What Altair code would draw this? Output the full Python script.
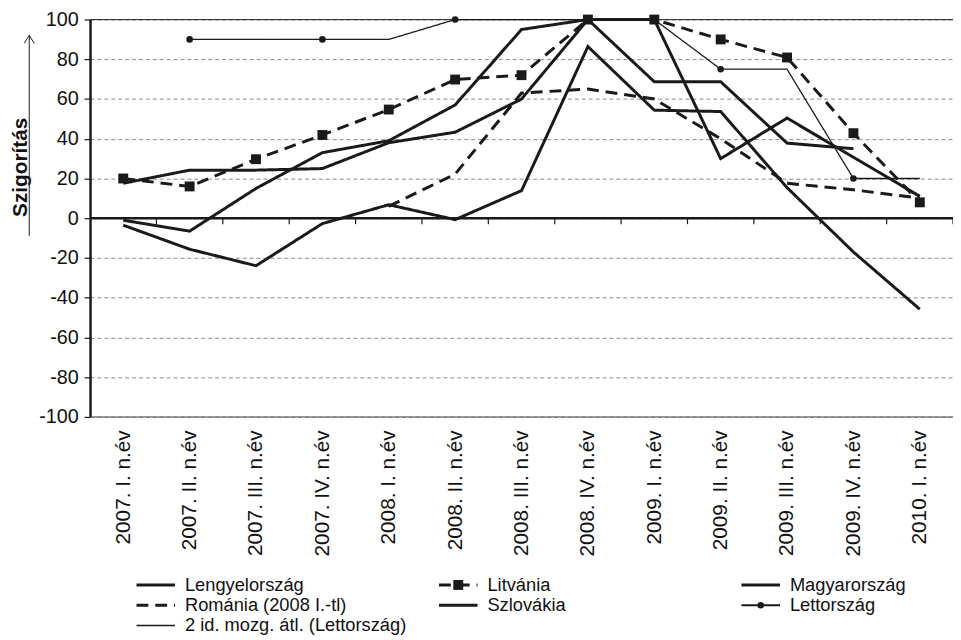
import altair as alt
import pandas as pd

quarters = ["2007. I. n.év", "2007. II. n.év", "2007. III. n.év", "2007. IV. n.év",
            "2008. I. n.év", "2008. II. n.év", "2008. III. n.év", "2008. IV. n.év",
            "2009. I. n.év", "2009. II. n.év", "2009. III. n.év", "2009. IV. n.év",
            "2010. I. n.év"]

lengyel = [17.6, 24.2, 24.2, 25, 38, 43.3, 60, 100, 68.7, 68.7, 37.8, 35, None]
litvania = [20, 16, 29.7, 41.9, 54.7, 69.8, 72, 100, 100, 90, 80.9, 42.8, 8]
magyar = [-1, -6.5, 15, 33, 39, 57, 95, 100, 100, 30, 50.4, 30.7, 11]
romania = [None, None, None, None, 6, 22.2, 63, 65, 60, 40, 17.6, 14.3, 10.1]
szlovakia = [-3.5, -15.6, -23.9, -2.7, 6.8, -0.7, 13.9, 86.4, 54.4, 53.7, 15.4, -17, -45.8]
lettorszag = [None, 90, None, 90, None, 100, None, 100, None, 75, None, 20, None]
mozg_atl = [None, 90, 90, 90, 90, 100, 100, 100, 100, 75, 75, 20, 20]

names = ["Lengyelország", "Litvánia", "Magyarország",
         "Románia (2008 I.-tl)", "Szlovákia", "Lettország",
         "2 id. mozg. átl. (Lettország)"]
series_values = [lengyel, litvania, magyar, romania, szlovakia, lettorszag, mozg_atl]

# legend grid placement (column, row) per series
legend_col = [0, 1, 2, 0, 1, 2, 0]
legend_row = [0, 0, 0, 1, 1, 1, 2]

rows = []
for name, vals in zip(names, series_values):
    for q, v in zip(quarters, vals):
        if v is not None:
            rows.append({"negyedév": q, "sorozat": name, "érték": v})
df = pd.DataFrame(rows)

leg_df = pd.DataFrame({"sorozat": names, "col": legend_col, "row": legend_row})

# ---- styles ----
INK = "#1a1a1a"
FONT = "Liberation Sans"
W, H = 873, 402
step = W / len(quarters)

dash_range = [[1, 0], [12, 7], [1, 0], [12, 7], [1, 0], [1, 0], [1, 0]]
width_range = [3, 3, 3, 3, 3, 2, 1.3]

dash_enc = alt.StrokeDash("sorozat:N", scale=alt.Scale(type="ordinal", domain=names, range=dash_range), legend=None)
width_enc = alt.StrokeWidth("sorozat:N", scale=alt.Scale(type="ordinal", domain=names, range=width_range), legend=None)

xscale = alt.Scale(type="point", domain=quarters, padding=0.5)
yscale = alt.Scale(domain=[-100, 100], nice=False)

x_enc = alt.X("negyedév:N", scale=xscale, sort=quarters,
              axis=alt.Axis(title=None, labelAngle=-90, labelFontSize=21, labelFont=FONT,
                            labelColor="#111", labelPadding=13, domain=False, ticks=False,
                            grid=False, labelLimit=300))
y_enc = alt.Y("érték:Q", scale=yscale,
              axis=alt.Axis(values=list(range(-100, 101, 20)), title="Szigorítás",
                            labelExpr="'' + datum.value",
                            grid=True, gridDash=[4, 3], gridColor="#8a8a8a", gridWidth=1,
                            domainColor=INK, domainWidth=2.5, tickColor=INK, tickSize=6,
                            tickWidth=1.2, labelFontSize=20, labelFont=FONT, labelColor="#111",
                            labelPadding=6, titleFontSize=21, titleFont=FONT,
                            titleFontWeight="bold", titleColor="#111", titleAngle=-90,
                            titleX=-70, titleY=149, titleAlign="center",
                            titleBaseline="middle"))

line_names = [n for n in names if n != "Lettország"]

lines = alt.Chart(df).transform_filter(
    alt.FieldOneOfPredicate(field="sorozat", oneOf=line_names)
).mark_line(color=INK, strokeJoin="miter").encode(
    x=x_enc, y=y_enc, detail="sorozat:N", strokeDash=dash_enc, strokeWidth=width_enc)

squares = alt.Chart(df).transform_filter(
    alt.datum.sorozat == "Litvánia"
).mark_point(shape="square", filled=True, size=100, color=INK, opacity=1).encode(x=x_enc, y=y_enc)

circles = alt.Chart(df).transform_filter(
    alt.datum.sorozat == "Lettország"
).mark_point(shape="circle", filled=True, size=45, color=INK, opacity=1).encode(x=x_enc, y=y_enc)

zero_df = pd.DataFrame({"érték": [0]})
zero_line = alt.Chart(zero_df).mark_rule(color=INK, strokeWidth=2.5).encode(y=y_enc)

top_df = pd.DataFrame({"érték": [100]})
top_line = alt.Chart(top_df).mark_rule(color="#333", strokeWidth=1).encode(y=y_enc)
bot_df = pd.DataFrame({"érték": [-100]})
bot_line = alt.Chart(bot_df).mark_rule(color="#555", strokeWidth=1).encode(y=y_enc)

tick_df = pd.DataFrame({"negyedév": quarters, "érték": [0] * len(quarters)})
zero_ticks = alt.Chart(tick_df).mark_rule(color=INK, strokeWidth=1.2, xOffset=step / 2,
                                          y2Offset=6).encode(
    x=x_enc, y=y_enc, y2=alt.Y2("érték"))

one = pd.DataFrame({"a": [0]})
arrow_line = alt.Chart(one).mark_rule(color=INK, strokeWidth=1).encode(
    x=alt.value(-61.5), y=alt.value(16), y2=alt.value(219))
arrow_head = alt.Chart(one).mark_point(shape="M-1,1.6L0,0L1,1.6", filled=False, size=100,
                                        color=INK, strokeWidth=1, opacity=1).encode(
    x=alt.value(-61.5), y=alt.value(16))

main = alt.layer(top_line, bot_line, zero_line, zero_ticks, lines, squares, circles,
                 arrow_line, arrow_head)

# ---- manual legend ----
lx = alt.X("col:Q", scale=alt.Scale(domain=[0, 2], range=[47, 659]), axis=None)
ly = alt.Y("row:Q", scale=alt.Scale(domain=[0, 2], range=[572, 613]), axis=None)

leg_lines = alt.Chart(leg_df).mark_rule(color=INK, x2Offset=39).encode(
    x=lx, x2=alt.X2("col:Q"), y=ly, strokeDash=dash_enc, strokeWidth=width_enc)
leg_sq = alt.Chart(leg_df).transform_filter(alt.datum.sorozat == "Litvánia").mark_point(
    shape="square", filled=True, size=100, color=INK, opacity=1, xOffset=19.5).encode(x=lx, y=ly)
leg_ci = alt.Chart(leg_df).transform_filter(alt.datum.sorozat == "Lettország").mark_point(
    shape="circle", filled=True, size=45, color=INK, opacity=1, xOffset=19.5).encode(x=lx, y=ly)
leg_text = alt.Chart(leg_df).mark_text(align="left", baseline="middle", dx=49, fontSize=18.5,
                                       font=FONT, color="#111").encode(
    x=lx, y=ly, text="sorozat:N")

legend = alt.layer(leg_lines, leg_sq, leg_ci, leg_text)

chart = alt.layer(main, legend).resolve_scale(x="independent", y="independent").properties(
    width=W, height=H,
    padding={"left": 83, "top": 8, "right": 0, "bottom": 222},
    autosize=alt.AutoSizeParams(type="none"),
    background="white",
).configure_view(stroke=None).configure(font=FONT)

chart.save("out.html", embed_options={"renderer": "svg", "actions": False})
